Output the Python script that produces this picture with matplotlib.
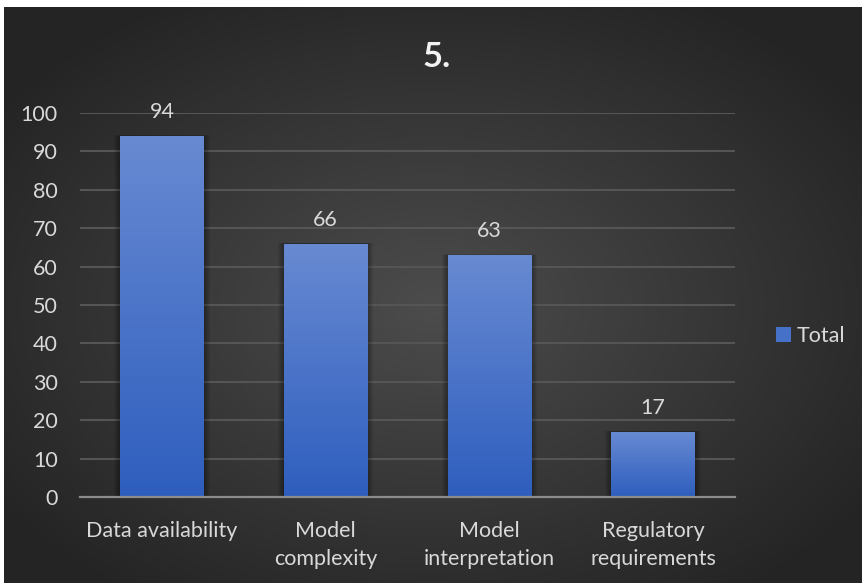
import numpy as np
import matplotlib
matplotlib.use("Agg")
import matplotlib.pyplot as plt
from matplotlib.patches import Rectangle

plt.rcParams['font.family'] = ['Lato', 'DejaVu Sans']

categories = ['Data availability', 'Model\ncomplexity', 'Model\ninterpretation', 'Regulatory\nrequirements']
totals = [94, 66, 63, 17]
yticks = list(range(0, 101, 10))

W, H = 863, 585
fig = plt.figure(figsize=(W / 100, H / 100), dpi=100)
fig.patch.set_facecolor('white')

# dark radial background
bg = fig.add_axes([4 / W, 2 / H, 857 / W, 576 / H])
bg.set_axis_off()
yy, xx = np.mgrid[0:1:300j, 0:1:450j]
r = np.sqrt(((xx - 0.5) / 0.62) ** 2 + ((yy - 0.52) / 0.62) ** 2)
r = np.clip(r, 0, 1)
inner = np.array([0x4c, 0x4c, 0x4c]) / 255
outer = np.array([0x24, 0x24, 0x24]) / 255
img = inner[None, None, :] * (1 - r[..., None]) + outer[None, None, :] * r[..., None]
bg.imshow(img, extent=[0, 1, 0, 1], aspect='auto', interpolation='bilinear')
bg.set_xlim(0, 1)
bg.set_ylim(0, 1)

ax = fig.add_axes([80 / W, 88 / H, 655 / W, 384 / H])
ax.patch.set_alpha(0)
ax.set_xlim(-0.5, len(categories) - 0.5)
ax.set_ylim(0, 100)

for s in ['top', 'right', 'left']:
    ax.spines[s].set_visible(False)
ax.spines['bottom'].set_color('#8c8c8c')
ax.spines['bottom'].set_linewidth(1.6)
ax.spines['bottom'].set_zorder(5)

ax.set_yticks(yticks)
ax.yaxis.grid(True, color='#555555', linewidth=1.5)
ax.set_axisbelow(True)
ax.tick_params(axis='both', length=0, colors='#d9d9d9', labelsize=15.5)
ax.tick_params(axis='y', pad=16)
ax.tick_params(axis='x', pad=17)
ax.set_xticks(range(len(categories)))
ax.set_xticklabels(categories, linespacing=1.55)

# vertical gradient for the bars
grad = np.linspace(0, 1, 256)[:, None]
top_c = np.array([0x68, 0x8a, 0xd2]) / 255
bot_c = np.array([0x2e, 0x5e, 0xbe]) / 255
bar_img = top_c[None, None, :] * (1 - grad[..., None]) + bot_c[None, None, :] * grad[..., None]

bar_w = 0.51
for i, v in enumerate(totals):
    x0 = i - bar_w / 2
    # soft shadow
    for k in range(1, 7):
        d = k * 0.006
        ax.add_patch(Rectangle((x0 - d, 0), bar_w + 2 * d, v + d * 6,
                               facecolor='black', alpha=0.06, linewidth=0, zorder=2))
    rect = Rectangle((x0, 0), bar_w, v, facecolor='none', linewidth=0, zorder=3)
    ax.add_patch(rect)
    im = ax.imshow(bar_img, extent=[x0, x0 + bar_w, 0, v], aspect='auto',
                   zorder=3, interpolation='bilinear')
    im.set_clip_path(rect)
    ax.annotate(str(v), xy=(i, v), xytext=(0, 10), textcoords='offset points',
                ha='center', va='bottom', color='#d9d9d9', fontsize=15.5)

ax.set_xlim(-0.5, len(categories) - 0.5)
ax.set_ylim(0, 100)

# legend
leg_h = Rectangle((0, 0), 1, 1, facecolor='#4571c8', edgecolor='none')
leg = fig.legend([leg_h], ['Total'], loc='center left', bbox_to_anchor=(776 / W, 1 - 336 / H),
                 frameon=False, fontsize=15.5, handlelength=0.7, handleheight=0.7,
                 handletextpad=0.25, borderpad=0, borderaxespad=0)
for t in leg.get_texts():
    t.set_color('#d9d9d9')

fig.text(437 / W, 1 - 57 / H, '5.', ha='center', va='center', color='#f2f2f2',
         fontsize=25, fontweight='bold')

fig.savefig('out.png', dpi=100, facecolor=fig.get_facecolor())
